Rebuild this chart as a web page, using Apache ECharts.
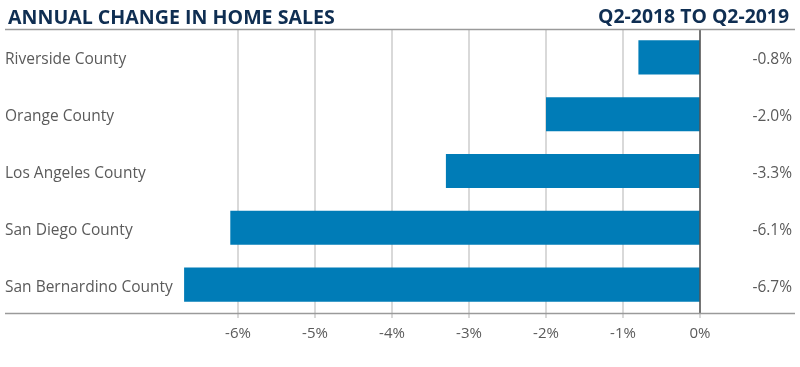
<!DOCTYPE html>
<html><head><meta charset="utf-8">
<script src="https://cdn.jsdelivr.net/npm/echarts@6/dist/echarts.min.js"></script>
<style>html,body{margin:0;padding:0;background:#fff}#c{width:800px;height:367px}</style>
</head><body><div id="c"></div>
<script>
const categories = ['Riverside County','Orange County','Los Angeles County','San Diego County','San Bernardino County'];
const values = [-0.8, -2.0, -3.3, -6.1, -6.7];
const valueLabels = ['-0.8%','-2.0%','-3.3%','-6.1%','-6.7%'];
const titleLeft = 'ANNUAL CHANGE IN HOME SALES';
const titleRight = 'Q2-2018 TO Q2-2019';

const chart = echarts.init(document.getElementById('c'));
const navy = '#0f2e52';
const txt = '#5a5a5a';
chart.setOption({
  animation: false,
  title: [
    {text: titleLeft, left: 3, top: 3, textStyle:{fontFamily:'Open Sans', fontWeight:'bold', fontSize:19.6, color:navy}},
    {text: titleRight, right: 6, top: 3, textStyle:{fontFamily:'Open Sans', fontWeight:'bold', fontSize:19.4, color:navy}}
  ],
  graphic: [
    {type:'line', shape:{x1:5,y1:29.5,x2:795,y2:29.5}, style:{stroke:'#9a9a9a', lineWidth:1.5}, z:10},
    {type:'line', shape:{x1:5,y1:313.5,x2:795,y2:313.5}, style:{stroke:'#9a9a9a', lineWidth:1.5}, z:10}
  ],
  grid: [
    {left:161, right:100, top:29, bottom:54},
    {left:161, right:100, top:31.5, bottom:51.5}
  ],
  xAxis: [{
    type:'value', min:-7, max:0, interval:1, gridIndex:0,
    axisLine:{show:false},
    axisTick:{show:true, length:5, lineStyle:{color:'#cccccc', width:1.5}},
    splitLine:{show:true, showMinLine:false, lineStyle:{color:'#cccccc', width:1.5}},
    axisLabel:{showMinLabel:false, margin:13, fontFamily:'Open Sans', fontSize:15, color:txt, formatter: v => v + '%'}
  }, {
    type:'value', min:-7, max:0, gridIndex:1, show:false
  }],
  yAxis: [
    {type:'category', data:categories, inverse:true, gridIndex:0, show:false},
    {type:'category', data:categories, inverse:true, gridIndex:1,
     axisLine:{show:false}, axisTick:{show:false},
     axisLabel:{align:'left', margin:156, fontFamily:'Open Sans', fontSize:15.5, color:txt}},
    {type:'category', data:valueLabels, inverse:true, position:'right', gridIndex:1,
     axisLine:{show:false}, axisTick:{show:false},
     axisLabel:{align:'right', margin:92, fontFamily:'Open Sans', fontSize:15.5, color:txt}}
  ],
  series: [{
    type:'bar', data:values, barWidth:'60%', xAxisIndex:0, yAxisIndex:0,
    itemStyle:{color:'#007cb7'},
    markLine:{silent:true, symbol:'none', label:{show:false},
      lineStyle:{color:'#555', type:'solid', width:1.5},
      data:[{xAxis:0}]}
  }]
});
</script></body></html>
